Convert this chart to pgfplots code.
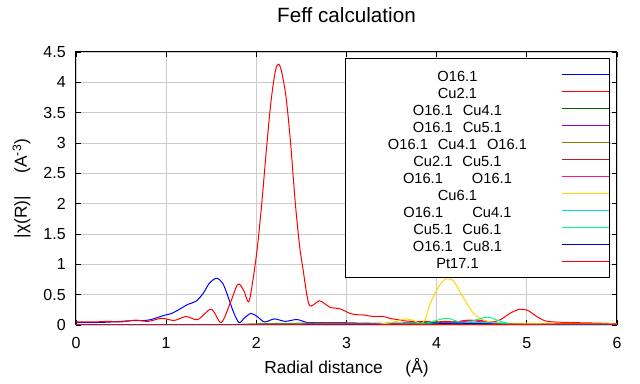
\documentclass[border=0pt]{standalone}
\usepackage{fontspec}
\setmainfont{Liberation Sans}
\usepackage{pgfplots}
\pgfplotsset{compat=1.18}
\definecolor{cO}{RGB}{0,0,255}
\definecolor{cCu}{RGB}{255,0,0}
\definecolor{cDG}{RGB}{0,100,0}
\definecolor{cPU}{RGB}{148,0,211}
\definecolor{cOL}{RGB}{128,128,0}
\definecolor{cFB}{RGB}{178,34,34}
\definecolor{cDP}{RGB}{255,20,147}
\definecolor{cGD}{RGB}{255,215,0}
\definecolor{cCY}{RGB}{0,215,215}
\definecolor{cSG}{RGB}{0,255,127}
\definecolor{cMB}{RGB}{0,0,205}
\definecolor{cPT}{RGB}{255,0,0}
\newcommand{\LE}[1]{\hspace*{12pt}\makebox[144pt][c]{#1}}
\begin{document}
\begin{tikzpicture}
\useasboundingbox (-57pt,-44.25pt) rectangle (423pt,243.75pt);
\begin{axis}[
  at={(0pt,0pt)}, anchor=south west,
  scale only axis, width=405.75pt, height=204.75pt,
  xmin=0, xmax=6, ymin=0, ymax=4.5,
  xtick={0,1,2,3,4,5,6}, ytick={0,0.5,1,1.5,2,2.5,3,3.5,4,4.5},
  grid=major, grid style={color=black!20, line width=0.6pt},
  tick align=inside, major tick length=4pt, tick style={black, line width=0.6pt},
  axis line style={line width=0.75pt},
  /pgf/number format/assume math mode=true,
  ticklabel style={font=\fontsize{12}{14}\selectfont},
  xticklabel style={anchor=base, inner sep=0pt, yshift=-17.5pt},
  yticklabel style={anchor=east, inner sep=0pt, xshift=-7.5pt},
  title={Feff calculation},
  title style={at={(axis description cs:0.5,1)}, anchor=base, yshift=15.75pt, font=\fontsize{15.5}{18}\selectfont},
  xlabel={Radial distance\hspace{17pt}(Å)},
  xlabel style={at={(axis description cs:0.5,0)}, anchor=base, yshift=-36.75pt, font=\fontsize{13}{15}\selectfont},
  ylabel={|χ(R)|\hspace{17pt}(A\textsuperscript{-3})},
  ylabel style={at={(axis description cs:-0.0906,0.5)}, anchor=base, font=\fontsize{13}{15}\selectfont},
  legend style={at={(axis description cs:0.4972,0.978)}, anchor=north west, draw=black, line width=0.75pt, fill=white,
    inner xsep=0pt, inner ysep=5.6pt, font=\fontsize{11}{12.5}\selectfont,
    nodes={inner sep=0pt, text height=11.5pt, text depth=1.25pt}, column sep=6pt, row sep=0pt},
  legend cell align=left,
  legend plot pos=right,
  legend image code/.code={\draw[#1, line width=0.75pt] (0pt,0pt) -- (30pt,0pt); \path (0pt,0pt) -- (35.25pt,0pt);},
  every axis plot/.append style={line width=0.75pt, no markers, smooth},
]
% O16.1
\addplot[color=cO] coordinates {
(0,0.04) (0.2,0.04) (0.4,0.05) (0.6,0.07) (0.8,0.08) (0.98,0.16) (1.06,0.19) (1.16,0.27) (1.24,0.34) (1.33,0.39)
(1.41,0.52) (1.48,0.69) (1.56,0.77) (1.63,0.68) (1.69,0.45) (1.75,0.2) (1.81,0.04) (1.87,0.12) (1.94,0.19)
(2.01,0.14) (2.09,0.05) (2.2,0.1) (2.32,0.06) (2.45,0.09) (2.57,0.04) (2.74,0.04) (2.9,0.02) (3.2,0.02) (3.5,0.01) (4,0.01) (5,0.005) (6,0.005)};
% Cu2.1
\addplot[color=cCu] coordinates {
(0,0.05) (0.2,0.05) (0.36,0.06) (0.5,0.05) (0.66,0.08) (0.8,0.06) (0.95,0.11) (1.09,0.075) (1.22,0.14) (1.35,0.09)
(1.5,0.26) (1.61,0.04) (1.71,0.36) (1.795,0.67) (1.86,0.57) (1.915,0.38) (1.96,0.72) (2.01,1.26) (2.06,2.0) (2.11,2.86)
(2.16,3.65) (2.21,4.18) (2.245,4.30) (2.28,4.18) (2.33,3.75) (2.38,3.0) (2.43,2.05) (2.48,1.3) (2.52,0.9) (2.56,0.5)
(2.59,0.32) (2.63,0.33) (2.7,0.40) (2.76,0.35) (2.82,0.29) (2.93,0.265) (3.04,0.19) (3.11,0.17) (3.19,0.165)
(3.3,0.14) (3.41,0.14) (3.48,0.11) (3.56,0.09) (3.63,0.07) (3.78,0.055) (3.9,0.06) (4.0,0.05) (4.1,0.06) (4.2,0.05)
(4.36,0.08) (4.5,0.05) (4.62,0.05) (4.71,0.09) (4.81,0.19) (4.92,0.26) (5.01,0.24) (5.1,0.15) (5.2,0.07) (5.3,0.05)
(5.5,0.04) (5.8,0.03) (6,0.02)};
% O16.1 Cu4.1
\addplot[color=cDG] coordinates {
(0,0.0) (1.5,0.0) (2.5,0.005) (3.0,0.02) (3.5,0.03) (4.0,0.04) (4.3,0.03) (5,0.01) (6,0.005)};
% O16.1 Cu5.1
\addplot[color=cPU] coordinates {
(0,0.0) (1.8,0.0) (2.4,0.01) (2.8,0.04) (3.2,0.03) (3.6,0.02) (4.1,0.02) (4.5,0.03) (5,0.01) (6,0.005)};
% O16.1 Cu4.1 O16.1
\addplot[color=cOL] coordinates {
(0,0.0) (1.5,0.0) (2.0,0.02) (2.6,0.03) (3.0,0.02) (4.0,0.01) (5,0.005) (6,0.0)};
% Cu2.1 Cu5.1
\addplot[color=cFB] coordinates {
(0,0.0) (3.0,0.005) (3.8,0.02) (4.2,0.05) (4.45,0.08) (4.6,0.05) (5,0.01) (6,0.005)};
% O16.1 O16.1
\addplot[color=cDP] coordinates {
(0,0.0) (3.2,0.005) (4.0,0.02) (4.3,0.06) (4.45,0.07) (4.6,0.04) (5,0.01) (6,0.005)};
% Cu6.1
\addplot[color=cGD] coordinates {
(0,0.005) (3.0,0.005) (3.3,0.01) (3.46,0.03) (3.6,0.08) (3.66,0.1) (3.73,0.08) (3.82,0.03) (3.87,0.08)
(3.93,0.36) (4.01,0.6) (4.08,0.74) (4.13,0.76) (4.19,0.72) (4.3,0.44) (4.41,0.19) (4.52,0.08) (4.67,0.04) (5,0.03) (6,0.02)};
% O16.1 Cu4.1
\addplot[color=cCY] coordinates {
(0,0.0) (3.0,0.005) (3.5,0.01) (4.1,0.03) (4.5,0.04) (5,0.01) (6,0.005)};
% Cu5.1 Cu6.1
\addplot[color=cSG] coordinates {
(0,0.0) (3.5,0.005) (3.8,0.01) (3.96,0.06) (4.11,0.11) (4.23,0.06) (4.3,0.03) (4.41,0.07) (4.56,0.13) (4.69,0.07) (4.81,0.02) (5,0.01) (6,0.005)};
% O16.1 Cu8.1
\addplot[color=cMB] coordinates {
(0,0.0) (3.0,0.005) (3.8,0.01) (4.2,0.03) (4.5,0.02) (5.0,0.005) (6,0.0)};
% Pt17.1
\addplot[color=cPT] coordinates {
(0,0.0) (4.0,0.005) (5.0,0.01) (5.5,0.02) (6,0.015)};
\legend{
\LE{O16.1},
\LE{Cu2.1},
\LE{O16.1\hspace{7.5pt}Cu4.1},
\LE{O16.1\hspace{7.5pt}Cu5.1},
\LE{O16.1\hspace{7.5pt}Cu4.1\hspace{7.5pt}O16.1},
\LE{Cu2.1\hspace{7.5pt}Cu5.1},
\LE{O16.1\hspace{21.75pt}O16.1},
\LE{Cu6.1},
\LE{O16.1\hspace{21.75pt}Cu4.1},
\LE{Cu5.1\hspace{7.5pt}Cu6.1},
\LE{O16.1\hspace{7.5pt}Cu8.1},
\LE{Pt17.1}}
\end{axis}
\end{tikzpicture}
\end{document}
